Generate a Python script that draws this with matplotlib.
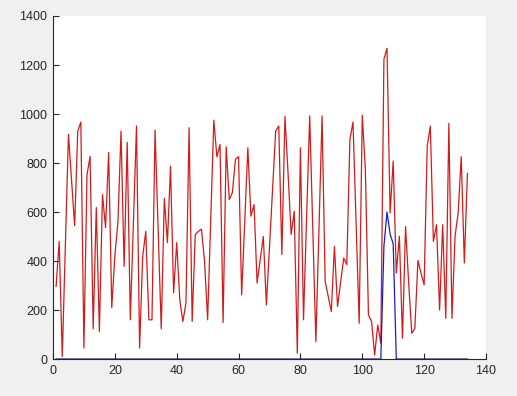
import matplotlib
matplotlib.use("Agg")
import matplotlib.pyplot as plt
import numpy as np

red_values = [296, 480, 10, 470, 917, 730, 544, 930, 967, 45,
              753, 827, 123, 618, 112, 671, 536, 843, 209, 420,
              560, 930, 378, 884, 160, 555, 951, 45, 419, 521,
              160, 160, 934, 530, 123, 655, 475, 787, 270, 475,
              241, 153, 229, 944, 153, 508, 521, 530, 400, 160,
              570, 975, 825, 876, 149, 866, 651, 679, 815, 826,
              262, 560, 862, 583, 630, 310, 405, 500, 221, 457,
              693, 930, 951, 426, 990, 760, 508, 603, 23, 862,
              160, 575, 992, 530, 71, 530, 992, 317, 255, 194,
              460, 214, 313, 412, 385, 896, 967, 560, 146, 995,
              774, 180, 153, 16, 139, 64, 1224, 1268, 596, 808,
              351, 501, 85, 541, 310, 105, 125, 402, 350, 303,
              869, 951, 480, 548, 200, 548, 166, 962, 166, 501,
              596, 826, 392, 757]
x_values = list(range(1, len(red_values) + 1))
blue_values = [0] * len(red_values)
blue_peak = {107: 460, 108: 600, 109: 510, 110: 470}
for k, v in blue_peak.items():
    blue_values[k - 1] = v

x_ticks = [0, 20, 40, 60, 80, 100, 120, 140]
y_ticks = [0, 200, 400, 600, 800, 1000, 1200, 1400]

plt.rcParams['font.family'] = ['Liberation Sans', 'DejaVu Sans']

fig = plt.figure(figsize=(5.17, 3.96), dpi=100, facecolor="#f0f0f0")
ax = fig.add_axes([0.1025, 0.0934, 0.8375, 0.8662])
ax.set_facecolor("white")
ax.plot(x_values, red_values, color="#d01c1c", lw=0.9)
ax.plot(x_values, blue_values, color="#1c1cc8", lw=0.9)
ax.set_xlim(0, 140)
ax.set_ylim(0, 1400)
ax.set_xticks(x_ticks)
ax.set_yticks(y_ticks)
for s in ["top", "right"]:
    ax.spines[s].set_visible(False)
for s in ["left", "bottom"]:
    ax.spines[s].set_color("#262626")
    ax.spines[s].set_linewidth(0.8)
ax.tick_params(direction="in", length=4, width=0.8, colors="#262626",
               labelsize=9, labelcolor="#262626", pad=4)
fig.savefig("out.png", dpi=100, facecolor=fig.get_facecolor())
